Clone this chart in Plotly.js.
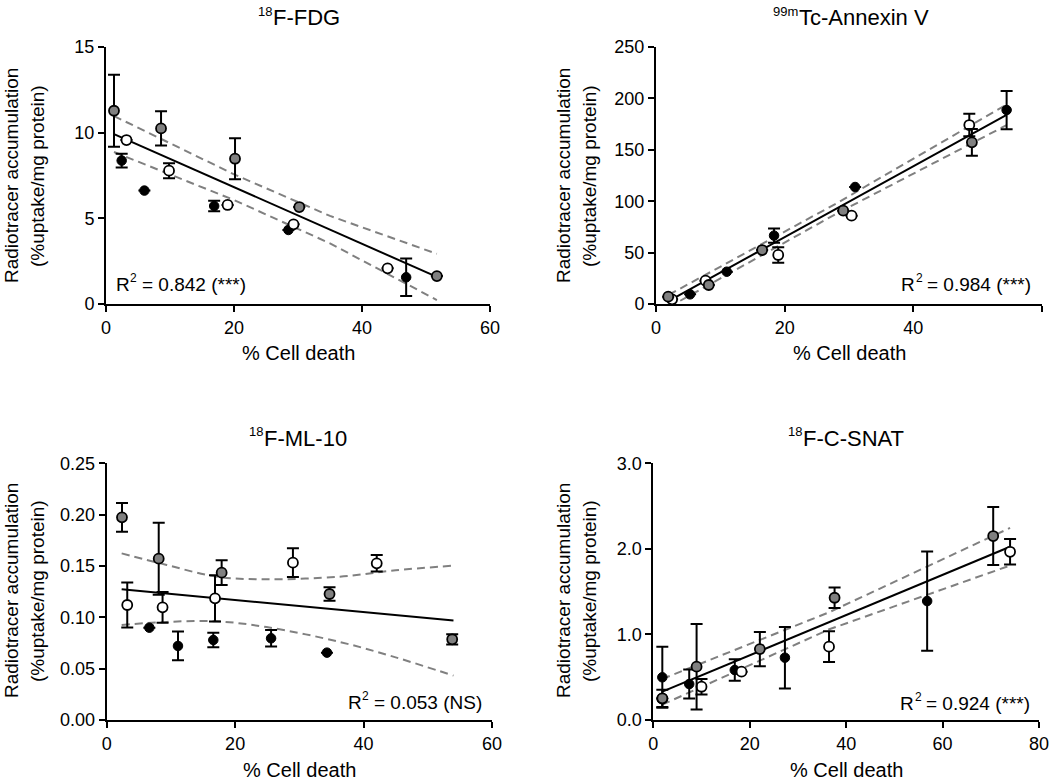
<!DOCTYPE html>
<html>
<head>
<meta charset="utf-8">
<script src="https://cdn.plot.ly/plotly-3.0.1.min.js"></script>
<style>html,body{margin:0;padding:0;background:#fff;}#chart{width:1050px;height:781px;}</style>
</head>
<body>
<div id="chart"></div>
<script>
// ---------- Data ----------
// Panel 1: 18F-FDG
const fdgBlackX = [2.45, 6.0, 16.9, 28.5, 46.9];
const fdgBlackY = [8.37, 6.62, 5.72, 4.32, 1.56];
const fdgBlackErr = [0.4, null, 0.3, null, 1.1];
const fdgOpenX = [3.2, 9.85, 19.0, 29.3, 44.0];
const fdgOpenY = [9.57, 7.78, 5.78, 4.65, 2.08];
const fdgOpenErr = [null, 0.44, null, null, null];
const fdgGrayX = [1.25, 8.6, 20.16, 30.2, 51.7];
const fdgGrayY = [11.28, 10.25, 8.48, 5.66, 1.63];
const fdgGrayErr = [2.1, 1.0, 1.2, null, null];
const fdgFitX = [1.25, 51.7];
const fdgFitY = [9.92, 1.58];
const fdgCiX = [1.25, 20, 35, 51.7];
const fdgCiUpper = [10.97, 7.57, 5.14, 2.93];
const fdgCiLower = [8.87, 6.07, 3.54, 0.23];

// Panel 2: 99mTc-Annexin V
const anxBlackX = [5.3, 11.0, 18.35, 30.95, 54.5];
const anxBlackY = [9.4, 31.4, 66.5, 113.8, 188.7];
const anxBlackErr = [null, null, 7, null, 18.6];
const anxOpenX = [2.5, 7.7, 19.0, 30.4, 48.7];
const anxOpenY = [4.5, 22.7, 47.7, 85.9, 174.1];
const anxOpenErr = [null, null, 7.5, null, 11];
const anxGrayX = [1.9, 8.2, 16.5, 29.1, 49.1];
const anxGrayY = [7.1, 18.5, 52.5, 90.8, 157.3];
const anxGrayErr = [null, null, null, null, 13];
const anxFitX = [2.0, 54.5];
const anxFitY = [3.0, 184];
const anxCiX = [2.0, 28, 54.5];
const anxCiUpper = [9, 97.7, 194];
const anxCiLower = [-3, 87.7, 174];

// Panel 3: 18F-ML-10
const mlBlackX = [6.64, 11.1, 16.6, 25.6, 34.3];
const mlBlackY = [0.0899, 0.0721, 0.0779, 0.0796, 0.0656];
const mlBlackErr = [null, 0.014, 0.007, 0.008, null];
const mlOpenX = [3.2, 8.7, 16.87, 29.0, 42.05];
const mlOpenY = [0.112, 0.1097, 0.1185, 0.1532, 0.1526];
const mlOpenErr = [0.022, 0.015, 0.0225, 0.014, 0.008];
const mlGrayX = [2.38, 8.1, 17.9, 34.7, 53.8];
const mlGrayY = [0.1974, 0.1571, 0.1435, 0.1227, 0.0786];
const mlGrayErr = [0.014, 0.035, 0.012, 0.0065, 0.005];
const mlFitX = [2.33, 54.0];
const mlFitY = [0.1273, 0.0968];
const mlCiX = [2.33, 9.35, 17.1, 24.9, 36.3, 45, 54];
const mlCiUpper = [0.1623, 0.151, 0.1396, 0.137, 0.1396, 0.1458, 0.1503];
const mlCiLower = [0.0925, 0.0955, 0.0961, 0.0905, 0.076, 0.061, 0.0432];

// Panel 4: 18F-C-SNAT
const snBlackX = [1.87, 7.45, 16.9, 27.3, 56.8];
const snBlackY = [0.499, 0.42, 0.584, 0.728, 1.39];
const snBlackErr = [0.357, 0.17, 0.125, 0.36, 0.58];
const snOpenX = [1.87, 10.0, 18.3, 36.45, 74.0];
const snOpenY = [0.25, 0.389, 0.565, 0.857, 1.966];
const snOpenErr = [null, 0.09, null, 0.18, 0.15];
const snGrayX = [1.87, 8.98, 22.1, 37.6, 70.5];
const snGrayY = [0.253, 0.623, 0.829, 1.429, 2.15];
const snGrayErr = [0.1, 0.5, 0.2, 0.12, 0.34];
const snFitX = [1.87, 74.0];
const snFitY = [0.331, 2.025];
const snCiX = [1.87, 36.5, 74.0];
const snCiUpper = [0.48, 1.26, 2.245];
const snCiLower = [0.18, 1.06, 1.805];

// Text
const titleSup = ['18', '99m', '18', '18'];
const titleMain = ['F-FDG', 'Tc-Annexin V', 'F-ML-10', 'F-C-SNAT'];
const r2Values = ['= 0.842 (***)', '= 0.984 (***)', '= 0.053 (NS)', '= 0.924 (***)'];
const xTitle = '% Cell death';
const yTitleLine1 = 'Radiotracer accumulation';
const yTitleLine2 = '(%uptake/mg protein)';

// ---------- Build ----------
const W = 1050, H = 781;
const FONT = 'Arial, "Liberation Sans", Helvetica, sans-serif';
const GRAY = '#808080';

function panelTraces(ax, d) {
  const xa = ax === 1 ? 'x' : 'x' + ax, ya = ax === 1 ? 'y' : 'y' + ax;
  const t = [];
  const ciLine = {color: GRAY, width: 2, dash: '8px,5px', shape: d.spline ? 'spline' : 'linear'};
  t.push({x: d.ciX, y: d.ciU, xaxis: xa, yaxis: ya, mode: 'lines', line: ciLine, hoverinfo: 'skip', showlegend: false});
  t.push({x: d.ciX, y: d.ciL, xaxis: xa, yaxis: ya, mode: 'lines', line: ciLine, hoverinfo: 'skip', showlegend: false});
  t.push({x: d.fitX, y: d.fitY, xaxis: xa, yaxis: ya, mode: 'lines', line: {color: '#000', width: 2}, hoverinfo: 'skip', showlegend: false});
  const groups = [
    [d.bx, d.by, d.be, {color: '#000', size: 9.5, line: {color: '#000', width: 1}}],
    [d.ox, d.oy, d.oe, {color: '#fff', size: 10, line: {color: '#000', width: 1.8}}],
    [d.gx, d.gy, d.ge, {color: GRAY, size: 10, line: {color: '#000', width: 1.8}}]
  ];
  groups.forEach(g => {
    t.push({x: g[0], y: g[1], xaxis: xa, yaxis: ya, mode: 'markers', type: 'scatter',
      marker: Object.assign({symbol: 'circle'}, g[3]), cliponaxis: false, showlegend: false,
      error_y: {type: 'data', array: g[2], symmetric: true, visible: true, color: '#000', thickness: 2, width: 6}});
  });
  return t;
}

const data = [].concat(
  panelTraces(1, {bx: fdgBlackX, by: fdgBlackY, be: fdgBlackErr, ox: fdgOpenX, oy: fdgOpenY, oe: fdgOpenErr, gx: fdgGrayX, gy: fdgGrayY, ge: fdgGrayErr, fitX: fdgFitX, fitY: fdgFitY, ciX: fdgCiX, ciU: fdgCiUpper, ciL: fdgCiLower}),
  panelTraces(2, {bx: anxBlackX, by: anxBlackY, be: anxBlackErr, ox: anxOpenX, oy: anxOpenY, oe: anxOpenErr, gx: anxGrayX, gy: anxGrayY, ge: anxGrayErr, fitX: anxFitX, fitY: anxFitY, ciX: anxCiX, ciU: anxCiUpper, ciL: anxCiLower}),
  panelTraces(3, {bx: mlBlackX, by: mlBlackY, be: mlBlackErr, ox: mlOpenX, oy: mlOpenY, oe: mlOpenErr, gx: mlGrayX, gy: mlGrayY, ge: mlGrayErr, fitX: mlFitX, fitY: mlFitY, ciX: mlCiX, ciU: mlCiUpper, ciL: mlCiLower, spline: true}),
  panelTraces(4, {bx: snBlackX, by: snBlackY, be: snBlackErr, ox: snOpenX, oy: snOpenY, oe: snOpenErr, gx: snGrayX, gy: snGrayY, ge: snGrayErr, fitX: snFitX, fitY: snFitY, ciX: snCiX, ciU: snCiUpper, ciL: snCiLower})
);

function axis(extra) {
  return Object.assign({
    showline: true, linecolor: '#000', linewidth: 2, mirror: false,
    ticks: 'outside', ticklen: 6, tickwidth: 2, tickcolor: '#000',
    showgrid: false, zeroline: false, fixedrange: true,
    tickfont: {family: FONT, size: 18, color: '#000'}, automargin: false
  }, extra);
}
const dx = (a, b) => [a / W, b / W];
const dy = (top, bottom) => [1 - bottom / H, 1 - top / H];

const layout = {
  width: W, height: H, margin: {l: 0, r: 0, t: 0, b: 0},
  paper_bgcolor: '#fff', plot_bgcolor: 'rgba(0,0,0,0)', showlegend: false,
  font: {family: FONT, color: '#000'},
  xaxis:  axis({domain: dx(106, 490), range: [0, 60], tickvals: [0, 20, 40, 60], anchor: 'y'}),
  yaxis:  axis({domain: dy(47, 304), range: [0, 15], tickvals: [0, 5, 10, 15], anchor: 'x'}),
  xaxis2: axis({domain: dx(656, 1042), range: [0, 60], tickvals: [0, 20, 40, 60], anchor: 'y2'}),
  yaxis2: axis({domain: dy(47, 304), range: [0, 250], tickvals: [0, 50, 100, 150, 200, 250], anchor: 'x2'}),
  xaxis3: axis({domain: dx(106.7, 492), range: [0, 60], tickvals: [0, 20, 40, 60], anchor: 'y3'}),
  yaxis3: axis({domain: dy(463.3, 720), range: [0, 0.25], tickvals: [0, 0.05, 0.1, 0.15, 0.2, 0.25], tickformat: '.2f', anchor: 'x3'}),
  xaxis4: axis({domain: dx(653.3, 1039), range: [0, 80], tickvals: [0, 20, 40, 60, 80], anchor: 'y4'}),
  yaxis4: axis({domain: dy(463.3, 720), range: [0, 3], tickvals: [0, 1, 2, 3], tickformat: '.1f', anchor: 'x4'}),
  annotations: []
};

// text measuring for composed superscript labels
const ctx = document.createElement('canvas').getContext('2d');
function tw(text, size) { ctx.font = size + 'px ' + FONT; return ctx.measureText(text).width; }

function ann(text, px, py, size, opts) {
  layout.annotations.push(Object.assign({
    text: text, xref: 'paper', yref: 'paper', x: px / W, y: 1 - py / H,
    xanchor: 'center', yanchor: 'middle', showarrow: false, borderpad: 0, borderwidth: 0,
    font: {family: FONT, size: size, color: '#000'}
  }, opts || {}));
}

// panel title: superscript + main text, centered at cx
function title(i, cx, cy) {
  const S = 22, s = 13;
  const ws = tw(titleSup[i], s), wm = tw(titleMain[i], S);
  const x0 = cx - (ws + wm) / 2;
  ann(titleSup[i], x0, cy - 0.3 * S, s, {xanchor: 'left'});
  ann(titleMain[i], x0 + ws + 0.5, cy, S, {xanchor: 'left'});
}
title(0, 298.5, 18);
title(1, 850.5, 18);
title(2, 297.5, 438);
title(3, 846, 438);

// R^2 label: "R" + superscript "2" + value text
function r2(i, px, py, align) {
  const S = 19, s = 12;
  const wR = tw('R', S), w2 = tw('2', s), wsp = tw(' ', S), wv = tw(r2Values[i], S);
  const total = wR + w2 + wsp + wv;
  const x0 = align === 'left' ? px : align === 'right' ? px - total : px - total / 2;
  ann('R', x0, py, S, {xanchor: 'left'});
  ann('2', x0 + wR + 0.5, py - 0.3 * S, s, {xanchor: 'left'});
  ann(r2Values[i], x0 + wR + w2 + wsp, py, S, {xanchor: 'left'});
}
r2(0, 116, 284, 'left');
r2(1, 1031, 284, 'right');
r2(2, 415, 702, 'center');
r2(3, 1030, 703, 'right');

// x titles
ann(xTitle, 298, 353, 20);
ann(xTitle, 849, 353, 20);
ann(xTitle, 299, 770, 20);
ann(xTitle, 846, 770, 20);

// y titles (two lines)
function ytitle(xc, yc) {
  ann(yTitleLine1, xc - 13, yc, 19, {textangle: -90});
  ann(yTitleLine2, xc + 13, yc, 19, {textangle: -90});
}
ytitle(24, 176);
ytitle(576, 176);
ytitle(24, 591);
ytitle(576, 591);

Plotly.newPlot('chart', data, layout, {staticPlot: true, displayModeBar: false});
</script>
</body>
</html>
